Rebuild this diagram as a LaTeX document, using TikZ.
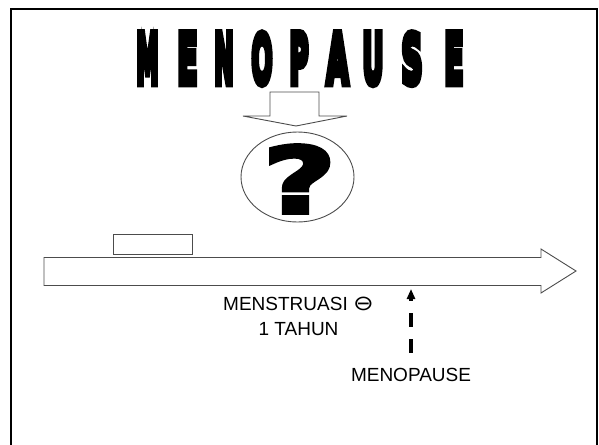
\documentclass[tikz,border=0pt]{standalone}
\usepackage{fontspec}
\setmainfont{Liberation Sans}
\newfontfamily\titlefont{DejaVu Sans}[FakeBold=12]
\newfontfamily\qfont{DejaVu Sans}[FakeBold=4]
\newfontfamily\symfont{DejaVu Sans}
\usetikzlibrary{arrows.meta}

\begin{document}
\begin{tikzpicture}[x=1pt, y=-1pt,
  outl/.style={draw=black!70, line width=0.9pt},
  lbl/.style={font=\fontsize{19}{25}\selectfont, inner sep=0pt},
  ttl/.style={inner sep=0pt, anchor=north},
  darr/.style={-{Triangle[length=10pt, width=8pt]}, line width=3.5pt,
    dash pattern=on 14pt off 12pt}
]
\useasboundingbox (0,0) rectangle (599,444);
% frame, open at the bottom
\draw[line width=2pt] (11,470) -- (11,9) -- (597,9) -- (597,470);
% title
\foreach \ch/\cx/\cw [count=\i] in {M/147.5/22, E/187.5/20, N/224/19, O/262/21,
  P/299/19, A/337.5/22, U/373/21, S/412/21, E/454/19}
  \node[ttl] (t\i) at (\cx,33) {\resizebox{\cw pt}{50pt}{\titlefont\bfseries \ch}};
% down arrow
\draw[outl] (270,92) -- (319,92) -- (319,116) -- (347,116) -- (296,126)
  -- (243,116) -- (270,116) -- cycle;
% question
\draw[outl] (297.5,177) ellipse [x radius=56.5, y radius=45];
\node[inner sep=0pt] (qm) at (299.5,179) {\resizebox{73pt}{68pt}{\qfont\bfseries ?}};
% timeline
\node[outl, minimum width=79pt, minimum height=20pt, inner sep=0pt] (box) at (152.5,244) {};
\draw[outl] (44,257.5) -- (541,257.5) -- (541,249) -- (576,271) -- (541,293)
  -- (541,285.5) -- (44,285.5) -- cycle;
\coordinate (tlb) at (412,285.5);
% labels
\node[lbl, align=center, anchor=base] (menst) at (298.5,335)
  {MENSTRUASI \scalebox{1.3}[1.1]{\symfont ⊖}\\1 TAHUN};
\node[lbl, anchor=base] (menop) at (411,381) {MENOPAUSE};
\draw[darr, shorten <=15pt, shorten >=3.5pt] (menop.north) -- (menop.north |- tlb);
\end{tikzpicture}
\end{document}
